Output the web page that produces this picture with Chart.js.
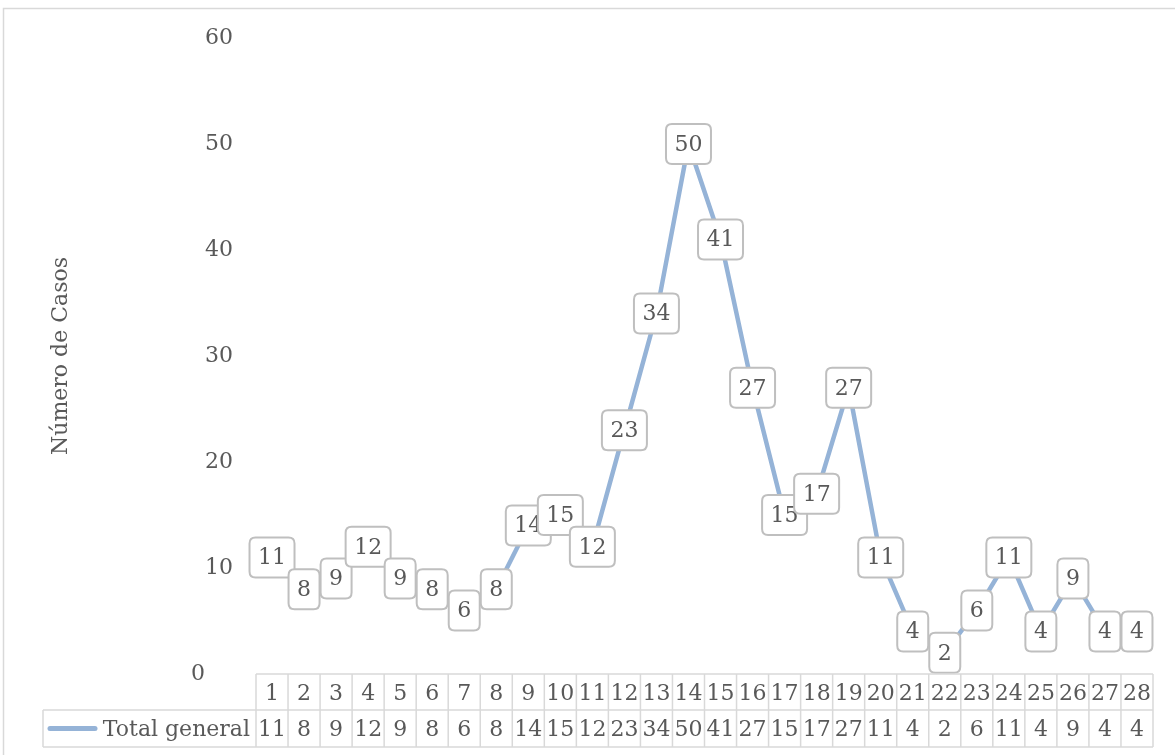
<!DOCTYPE html>
<html>
<head>
<meta charset="utf-8">
<script src="https://cdn.jsdelivr.net/npm/chart.js@4/dist/chart.umd.min.js"></script>
<style>
  html, body { margin: 0; padding: 0; background: #fff; }
  #wrap { width: 1175px; height: 755px; }
</style>
</head>
<body>
<div id="wrap"><canvas id="myChart" width="1175" height="755"></canvas></div>
<script>
var dias = ['1','2','3','4','5','6','7','8','9','10','11','12','13','14',
            '15','16','17','18','19','20','21','22','23','24','25','26','27','28'];
var totalGeneral = [11,8,9,12,9,8,6,8,14,15,12,23,34,50,41,27,15,17,27,11,4,2,6,11,4,9,4,4];
var serieNombre = 'Total general';
var ejeY = { min: 0, max: 60, paso: 10, titulo: 'Número de Casos' };

var fuente = 'DejaVu Serif';
var tam = 22;
var gris = '#595959';
var azul = '#95b3d7';
var borde = '#d9d9d9';

Chart.defaults.font.family = fuente;
Chart.defaults.color = gris;

function roundRect(c, x, y, w, h, r){
    c.beginPath();
    c.moveTo(x + r, y);
    c.lineTo(x + w - r, y);
    c.quadraticCurveTo(x + w, y, x + w, y + r);
    c.lineTo(x + w, y + h - r);
    c.quadraticCurveTo(x + w, y + h, x + w - r, y + h);
    c.lineTo(x + r, y + h);
    c.quadraticCurveTo(x, y + h, x, y + h - r);
    c.lineTo(x, y + r);
    c.quadraticCurveTo(x, y, x + r, y);
    c.closePath();
}

// fondo y marco del grafico
var marco = {
    id: 'marco',
    beforeDraw: function(chart){
        var c = chart.ctx;
        c.save();
        c.fillStyle = '#fff';
        c.fillRect(0, 0, chart.width, chart.height);
        c.strokeStyle = borde;
        c.lineWidth = 1.5;
        c.strokeRect(3.5, 8.5, chart.width + 10, chart.height + 10);
        c.restore();
    }
};

// etiquetas de datos en cajas redondeadas
var etiquetas = {
    id: 'etiquetas',
    afterDatasetsDraw: function(chart){
        var c = chart.ctx;
        var meta = chart.getDatasetMeta(0);
        c.save();
        c.font = tam + 'px "' + fuente + '"';
        c.textAlign = 'center';
        c.textBaseline = 'middle';
        meta.data.forEach(function(pt, i){
            var txt = String(totalGeneral[i]);
            var w = c.measureText(txt).width + 17;
            var h = 40;
            roundRect(c, pt.x - w / 2, pt.y - h / 2, w, h, 6);
            c.fillStyle = '#fff';
            c.fill();
            c.strokeStyle = '#bfbfbf';
            c.lineWidth = 2;
            c.stroke();
            c.fillStyle = gris;
            c.fillText(txt, pt.x, pt.y + 1);
        });
        c.restore();
    }
};

// tabla de datos bajo el eje
var tabla = {
    id: 'tabla',
    afterDraw: function(chart){
        var c = chart.ctx;
        var x = chart.scales.x;
        var area = chart.chartArea;
        var n = dias.length;
        var cw = (area.right - area.left) / n;
        var top = area.bottom;
        var mid = top + 36;
        var bot = top + 73;
        var legIzq = 43;
        c.save();
        c.strokeStyle = borde;
        c.lineWidth = 1.5;
        c.beginPath();
        c.moveTo(area.left, top); c.lineTo(area.right, top);
        c.moveTo(legIzq, mid); c.lineTo(area.right, mid);
        c.moveTo(legIzq, bot); c.lineTo(area.right, bot);
        c.moveTo(legIzq, mid); c.lineTo(legIzq, bot);
        for (var i = 0; i <= n; i++) {
            var gx = area.left + i * cw;
            c.moveTo(gx, top); c.lineTo(gx, bot);
        }
        c.stroke();

        c.font = tam + 'px "' + fuente + '"';
        c.fillStyle = gris;
        c.textAlign = 'center';
        c.textBaseline = 'middle';
        for (var j = 0; j < n; j++) {
            var cx = x.getPixelForValue(j);
            c.fillText(dias[j], cx, (top + mid) / 2 + 2);
            c.fillText(String(totalGeneral[j]), cx, (mid + bot) / 2 + 2);
        }

        // clave de leyenda
        var ly = (mid + bot) / 2;
        c.strokeStyle = azul;
        c.lineWidth = 5;
        c.lineCap = 'round';
        c.beginPath();
        c.moveTo(50, ly); c.lineTo(95, ly);
        c.stroke();
        c.textAlign = 'right';
        c.fillText(serieNombre, area.left - 6, ly + 2);
        c.restore();
    }
};

var ctx = document.getElementById('myChart').getContext('2d');
var myChart = new Chart(ctx, {
    type: 'line',
    data: {
        labels: dias,
        datasets: [{
            label: serieNombre,
            data: totalGeneral,
            borderColor: azul,
            backgroundColor: azul,
            borderWidth: 4.5,
            pointRadius: 0,
            tension: 0,
            fill: false
        }]
    },
    options: {
        responsive: false,
        animation: false,
        layout: { padding: { top: 38, bottom: 81, right: 22, left: 0 } },
        plugins: {
            legend: { display: false },
            tooltip: { enabled: false },
            title: { display: false }
        },
        scales: {
            x: {
                display: false,
                offset: true
            },
            y: {
                min: ejeY.min,
                max: ejeY.max,
                grid: { display: false },
                border: { display: false },
                ticks: {
                    stepSize: ejeY.paso,
                    padding: 15,
                    color: gris,
                    font: { size: tam },
                    callback: function(v){ return v === 0 ? '0    ' : String(v); }
                },
                title: {
                    display: true,
                    text: ejeY.titulo,
                    color: gris,
                    font: { size: tam },
                    padding: { top: 48, bottom: 0 }
                },
                afterFit: function(scale){ scale.width = 256; }
            }
        }
    },
    plugins: [marco, etiquetas, tabla]
});
</script>
</body>
</html>
